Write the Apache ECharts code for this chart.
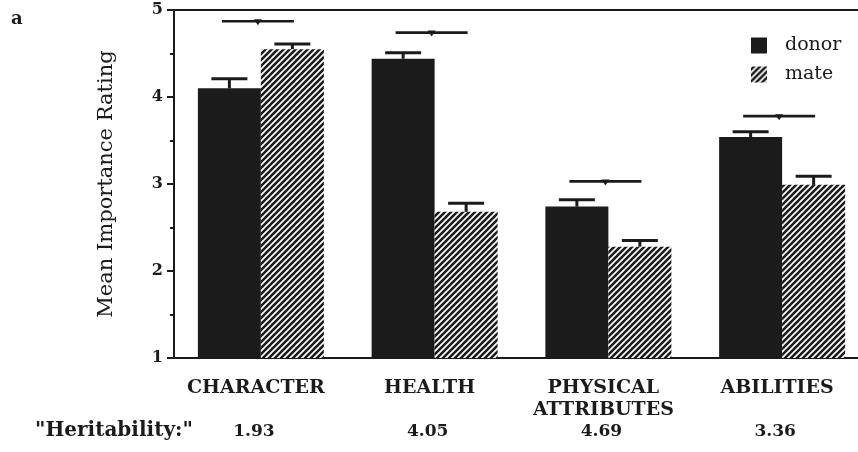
<!DOCTYPE html>
<html>
<head>
<meta charset="utf-8">
<script src="https://cdn.jsdelivr.net/npm/echarts@6/dist/echarts.min.js"></script>
<style>
html,body{margin:0;padding:0;background:#fff;}
#chart{width:858px;height:452px;}
</style>
</head>
<body>
<div id="chart"></div>
<script>
const categories = ['CHARACTER', 'HEALTH', 'PHYSICAL\nATTRIBUTES', 'ABILITIES'];
const heritability = ['1.93', '4.05', '4.69', '3.36'];
const donor = [4.10, 4.44, 2.74, 3.54];
const mate = [4.55, 2.68, 2.28, 2.99];
const donorErrTop = [4.21, 4.51, 2.82, 3.60];
const mateErrTop = [4.61, 2.78, 2.35, 3.09];
const sigLevel = [4.87, 4.74, 3.03, 3.78];
const yTicks = [1, 2, 3, 4, 5];

const INK = '#1b1b1b';
const FONT = 'DejaVu Serif';

function hatchCanvas() {
  const c = document.createElement('canvas');
  c.width = 6; c.height = 6;
  const g = c.getContext('2d');
  g.fillStyle = INK; g.fillRect(0, 0, 6, 6);
  g.strokeStyle = '#ffffff'; g.lineWidth = 1.7;
  g.beginPath();
  g.moveTo(-1, 7); g.lineTo(7, -1);
  g.moveTo(-4, 4); g.lineTo(4, -4);
  g.moveTo(2, 10); g.lineTo(10, 2);
  g.stroke();
  return c;
}
const hatch = { image: hatchCanvas(), repeat: 'repeat' };

const BAR_W = 63;

function errRender(offsetSign, tops, vals) {
  return function (params, api) {
    const i = api.value(0);
    const top = api.coord([i, tops[i]]);
    const base = api.coord([i, vals[i]]);
    const x = top[0] + offsetSign * BAR_W / 2;
    return {
      type: 'group',
      children: [
        { type: 'line', shape: { x1: x, y1: base[1], x2: x, y2: top[1] }, style: { stroke: INK, lineWidth: 3 } },
        { type: 'line', shape: { x1: x - 18, y1: top[1], x2: x + 18, y2: top[1] }, style: { stroke: INK, lineWidth: 3 } }
      ]
    };
  };
}

function sigRender(params, api) {
  const i = api.value(0);
  const p = api.coord([i, sigLevel[i]]);
  const cx = p[0] - 3;
  return {
    type: 'group',
    children: [
      { type: 'line', shape: { x1: cx - 36, y1: p[1], x2: cx + 36, y2: p[1] }, style: { stroke: INK, lineWidth: 2.6 } },
      { type: 'polygon', shape: { points: [[cx - 4, p[1] - 2], [cx + 4, p[1] - 2], [cx, p[1] + 4]] }, style: { fill: INK } }
    ]
  };
}

const chart = echarts.init(document.getElementById('chart'), null, { renderer: 'canvas' });
chart.setOption({
  animation: false,
  backgroundColor: '#ffffff',
  grid: { left: 174, top: 10, width: 695, height: 348, containLabel: false, outerBoundsMode: 'none' },
  legend: {
    orient: 'vertical',
    left: 746, top: 31,
    itemWidth: 16, itemHeight: 16, itemGap: 10,
    icon: 'rect',
    data: ['donor', 'mate'],
    textStyle: { fontFamily: FONT, fontSize: 19, color: INK, padding: [0, 0, 0, 13] }
  },
  graphic: [
    { type: 'text', left: 11, top: 10, style: { text: 'a', font: 'bold 18px "DejaVu Serif"', fill: INK } },
    { type: 'text', left: 35, top: 421, style: { text: '"Heritability:"', font: 'bold 20px "DejaVu Serif"', fill: INK } }
  ],
  xAxis: [
    {
      type: 'category', data: categories, position: 'bottom',
      axisLine: { show: true, lineStyle: { color: INK, width: 2 } },
      axisTick: { show: false },
      axisLabel: { interval: 0, hideOverlap: false, fontFamily: FONT, fontWeight: 'bold', fontSize: 19, color: INK, margin: 19, lineHeight: 22, padding: [0, 10, 0, 0] }
    },
    {
      type: 'category', data: heritability, position: 'bottom',
      axisLine: { show: false }, axisTick: { show: false },
      axisLabel: { interval: 0, hideOverlap: false, fontFamily: FONT, fontWeight: 'bold', fontSize: 17, color: INK, margin: 64, lineHeight: 20, padding: [0, 14, 0, 0] }
    },
    {
      type: 'category', data: categories, position: 'top',
      axisLine: { show: true, lineStyle: { color: INK, width: 2 } },
      axisTick: { show: false }, axisLabel: { show: false }
    }
  ],
  yAxis: {
    type: 'value', min: yTicks[0], max: yTicks[yTicks.length - 1], interval: 1,
    name: 'Mean Importance Rating', nameLocation: 'middle', nameGap: 57, nameRotate: 90,
    nameTextStyle: { fontFamily: FONT, fontSize: 21, color: INK },
    axisLine: { show: true, lineStyle: { color: INK, width: 2 } },
    axisTick: { show: true, inside: false, length: 7, lineStyle: { color: INK, width: 2 } },
    minorTick: { show: true, splitNumber: 2, length: 4, lineStyle: { color: INK, width: 2 } },
    splitLine: { show: false },
    axisLabel: { fontFamily: FONT, fontWeight: 'bold', fontSize: 16, color: INK, margin: 11 }
  },
  series: [
    { name: 'donor', type: 'bar', data: donor, barWidth: BAR_W, barGap: '0%', itemStyle: { color: INK } },
    { name: 'mate', type: 'bar', data: mate, barWidth: BAR_W, barGap: '0%', itemStyle: { color: hatch } },
    { type: 'custom', data: categories.map((c, i) => [i]), renderItem: errRender(-1, donorErrTop, donor), z: 5 },
    { type: 'custom', data: categories.map((c, i) => [i]), renderItem: errRender(1, mateErrTop, mate), z: 5 },
    { type: 'custom', data: categories.map((c, i) => [i]), renderItem: sigRender, z: 5 }
  ]
});
</script>
</body>
</html>
